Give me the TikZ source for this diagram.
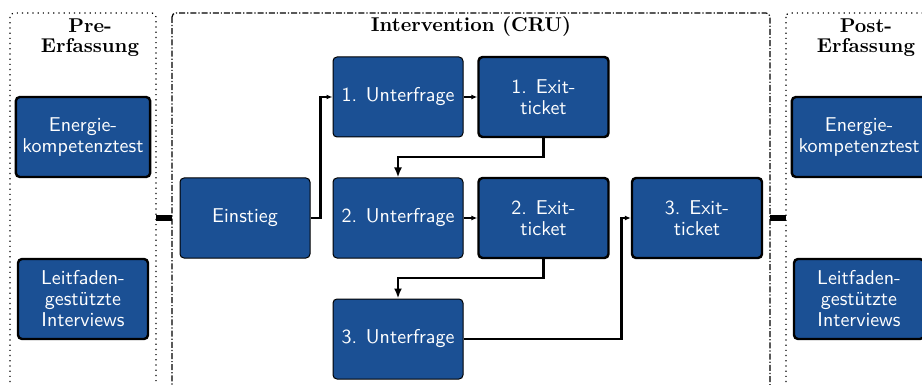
\documentclass[tikz,border=0pt]{standalone}
\usepackage{tikz}
\usetikzlibrary{arrows.meta}
\definecolor{boxblue}{RGB}{27,80,148}
\tikzset{
	box/.style={draw, fill=boxblue, text=white, rounded corners=2pt, line width=0.5pt,
		minimum width=65pt, minimum height=40pt, align=center,
		font=\sffamily\fontsize{10}{10.5}\selectfont},
	heavybox/.style={box, line width=1.2pt},
	frame/.style={rounded corners=2pt, line width=0.6pt},
	title/.style={align=center, font=\bfseries\fontsize{10}{10}\selectfont},
	flow/.style={line width=1.1pt, -{Latex[length=3pt,width=2.5pt]}},
	drop/.style={line width=1.1pt, -{Latex[length=5pt,width=4pt]}},
	bar/.style={line width=3pt},
}
\begin{document}
\begin{tikzpicture}[x=0.5pt, y=-0.5pt]
	\useasboundingbox (0,0) rectangle (922,385);
	\draw[frame, dotted] (10,13) rectangle (156,440);
	\draw[frame, densely dashdotted] (172,13) rectangle (770,440);
	\draw[frame, dotted] (786,13) rectangle (960,440);
	\node[title](PreT) at (90,38){Pre-\\Erfassung};
	\node[title](IntT) at (471,26){Intervention (CRU)};
	\node[title](PostT) at (866,38){Post-\\Erfassung};
	\node[heavybox](PreA) at (83,137){Energie-\\kompetenztest};
	\node[heavybox](PreB) at (83,299){Leitfaden-\\gestützte\\Interviews};
	\node[box](E) at (245,218){Einstieg};
	\node[box](U1) at (398,97){1. Unterfrage};
	\node[heavybox](X1) at (543.5,97){1. Exit-\\ticket};
	\node[box](U2) at (398,218){2. Unterfrage};
	\node[heavybox](X2) at (543.5,218){2. Exit-\\ticket};
	\node[box](U3) at (398,339){3. Unterfrage};
	\node[heavybox](X3) at (697,218){3. Exit-\\ticket};
	\node[heavybox](PostA) at (859,137){Energie-\\kompetenztest};
	\node[heavybox](PostB) at (859,299){Leitfaden-\\gestützte\\Interviews};
	\coordinate(P) at (156,218);
	\coordinate(I) at (172,218);
	\coordinate(J) at (770,218);
	\coordinate(Q) at (786,218);
	\draw[bar] (P) -- (I);
	\draw[bar] (J) -- (Q);
	\draw[flow] (E.east) -- ++(10,0) |- (U1.west);
	\draw[flow] (U1) -- (X1);
	\draw[drop] (X1.south) -- ++(0,19) -| (U2.north);
	\draw[flow] (U2) -- (X2);
	\draw[drop] (X2.south) -- ++(0,19) -| (U3.north);
	\draw[flow] (U3.east) -- ++(158,0) |- (X3.west);
\end{tikzpicture}
\end{document}
